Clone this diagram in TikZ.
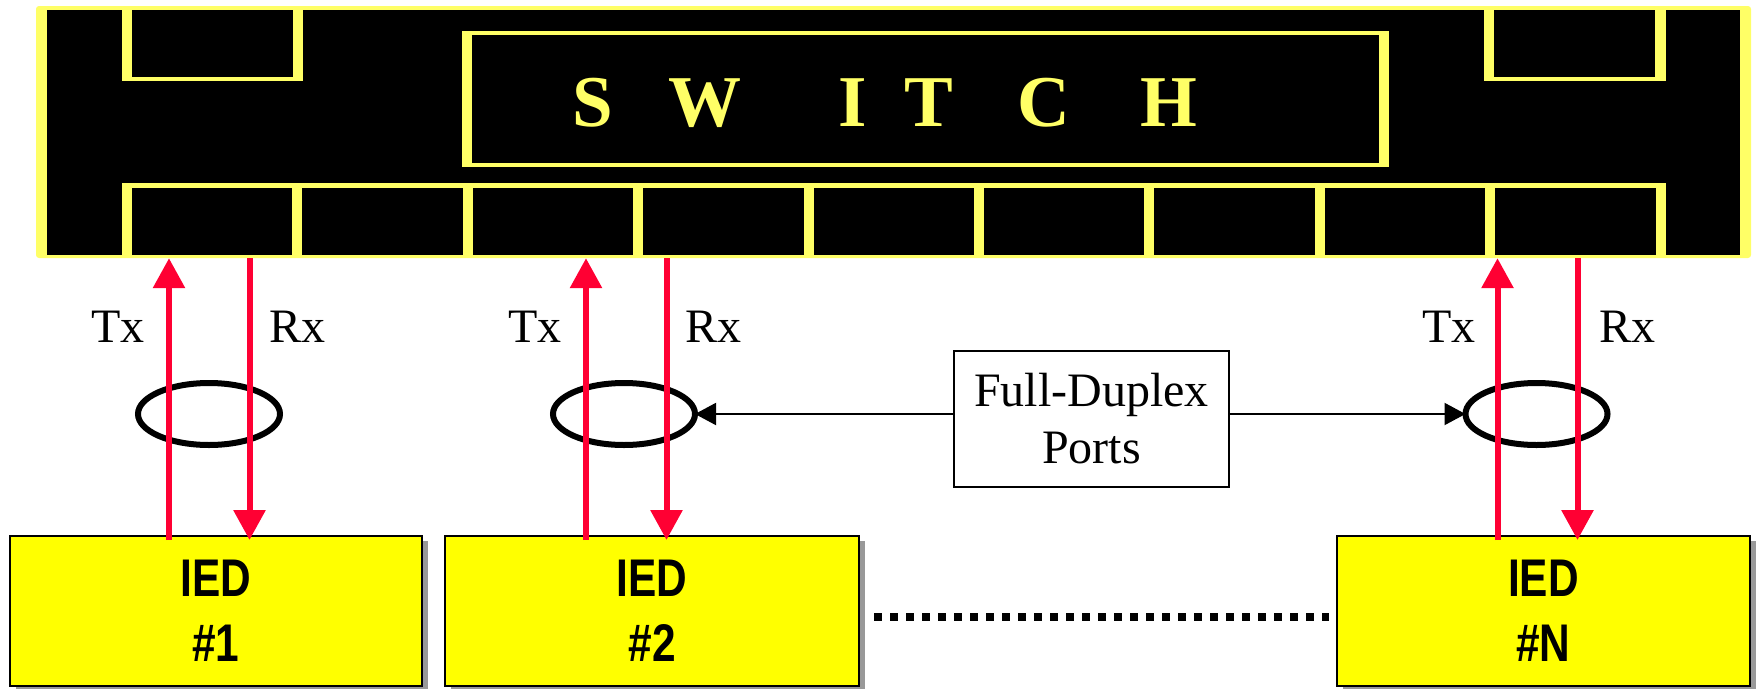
\documentclass[tikz,border=0pt]{standalone}
\usepackage{fontspec}
\setmainfont{Liberation Serif}
\newfontfamily\iedfont{Liberation Sans}[FakeStretch=0.8]
\usetikzlibrary{shapes.geometric,arrows.meta,shadows}
\definecolor{swy}{RGB}{255,255,102}
\definecolor{txred}{RGB}{255,0,51}
\definecolor{iedy}{RGB}{255,255,0}
\begin{document}
\begin{tikzpicture}[x=1pt,y=-1pt,
  iedbox/.style={draw=black, line width=2pt, fill=iedy, minimum height=150pt, inner sep=0pt,
    align=center, font=\iedfont\bfseries\fontsize{53}{65}\selectfont,
    drop shadow={shadow xshift=6pt, shadow yshift=-5pt, fill=gray!80, opacity=1}},
  portring/.style={draw=black, line width=6pt, ellipse, minimum width=142pt, minimum height=62pt, inner sep=0pt},
  sig/.style={draw=txred, line width=6pt, -{Triangle[length=30pt,width=31pt]}},
  lbl/.style={font=\fontsize{48}{57}\selectfont, inner sep=0pt},
  fdarrow/.style={draw=black, line width=2pt, -{Triangle[length=21pt,width=22pt]}},
  dotline/.style={draw=black, line width=8pt, dash pattern=on 8pt off 8pt},
  swfill/.style={fill=swy}
]
\useasboundingbox (0,0) rectangle (1756,688);

% ---------- switch ----------
\node[fill=swy, rounded corners=3pt, minimum width=1715pt, minimum height=252pt, inner sep=0pt] (sw) at (893.5,132) {};
\fill[black] (47,10) rectangle (1740,255);
% top-left port
\fill[swfill] (122,10) rectangle (132,81);
\fill[swfill] (293,10) rectangle (303,81);
\fill[swfill] (122,77) rectangle (303,81);
% top-right port
\fill[swfill] (1484,10) rectangle (1494,81);
\fill[swfill] (1655,10) rectangle (1666,81);
\fill[swfill] (1484,77) rectangle (1666,81);
% inner switch box
\fill[swfill] (462,31) rectangle (472,167);
\fill[swfill] (1379,31) rectangle (1389,167);
\fill[swfill] (462,31) rectangle (1389,35);
\fill[swfill] (462,163) rectangle (1389,167);
% bottom port row
\fill[swfill] (122,183) rectangle (1666,188);
\foreach \i in {0,...,9} {
  \pgfmathsetmacro\cx{127+170.4*\i}
  \fill[swfill] ({\cx-5},183) rectangle ({\cx+5},255);
}
\node[anchor=base west, inner sep=0pt, text=swy, font=\bfseries\fontsize{73}{80}\selectfont] (swtext) at (593,126)
  {\makebox[0pt]{S}\hspace{112pt}\makebox[0pt]{W}\hspace{148pt}\makebox[0pt]{I}\hspace{76pt}\makebox[0pt]{T}\hspace{115pt}\makebox[0pt]{C}\hspace{125pt}\makebox[0pt]{H}};

% ---------- IEDs ----------
\node[iedbox, minimum width=412pt] (ied1) at (216,611) {IED\\\#1};
\node[iedbox, minimum width=414pt] (ied2) at (652,611) {IED\\\#2};
\node[iedbox, minimum width=413pt] (iedN) at (1543.5,611) {IED\\\#N};

\draw[dotline, shorten <=14pt, shorten >=7pt] ([yshift=-6pt]ied2.east) -- ([yshift=-6pt]iedN.west);

% ---------- port rings ----------
\node[portring] (e1) at (209,414) {};
\node[portring] (e2) at (624,414) {};
\node[portring] (eN) at (1536.5,414) {};

% ---------- Tx / Rx lines ----------
\coordinate (t1) at (169,0);   \coordinate (r1) at (249.5,0);
\coordinate (t2) at (586,0);   \coordinate (r2) at (666.5,0);
\coordinate (tN) at (1497.5,0); \coordinate (rN) at (1577.5,0);

\draw[sig, shorten <=-5pt] (ied1.north -| t1) -- (sw.south -| t1);
\draw[sig, shorten >=-5pt] (sw.south -| r1) -- (ied1.north -| r1);
\draw[sig, shorten <=-5pt] (ied2.north -| t2) -- (sw.south -| t2);
\draw[sig, shorten >=-5pt] (sw.south -| r2) -- (ied2.north -| r2);
\draw[sig, shorten <=-5pt] (iedN.north -| tN) -- (sw.south -| tN);
\draw[sig, shorten >=-5pt] (sw.south -| rN) -- (iedN.north -| rN);

\node[lbl, anchor=base east] (tx1) at (145,342) {Tx};
\node[lbl, anchor=base west] (rx1) at (269,342) {Rx};
\node[lbl, anchor=base east] (tx2) at (562,342) {Tx};
\node[lbl, anchor=base west] (rx2) at (685,342) {Rx};
\node[lbl, anchor=base east] (txN) at (1476,342) {Tx};
\node[lbl, anchor=base west] (rxN) at (1599,342) {Rx};

% ---------- Full-Duplex label ----------
\node[draw=black, line width=2pt, minimum width=275pt, minimum height=136pt, inner sep=0pt,
  align=center, font=\fontsize{48}{57}\selectfont] (fd) at (1091.5,419) {Full-Duplex\\Ports};
\draw[fdarrow, shorten >=-3pt] (e2.east -| fd.west) -- (e2.east);
\draw[fdarrow, shorten >=-3pt] (eN.west -| fd.east) -- (eN.west);
\end{tikzpicture}
\end{document}
